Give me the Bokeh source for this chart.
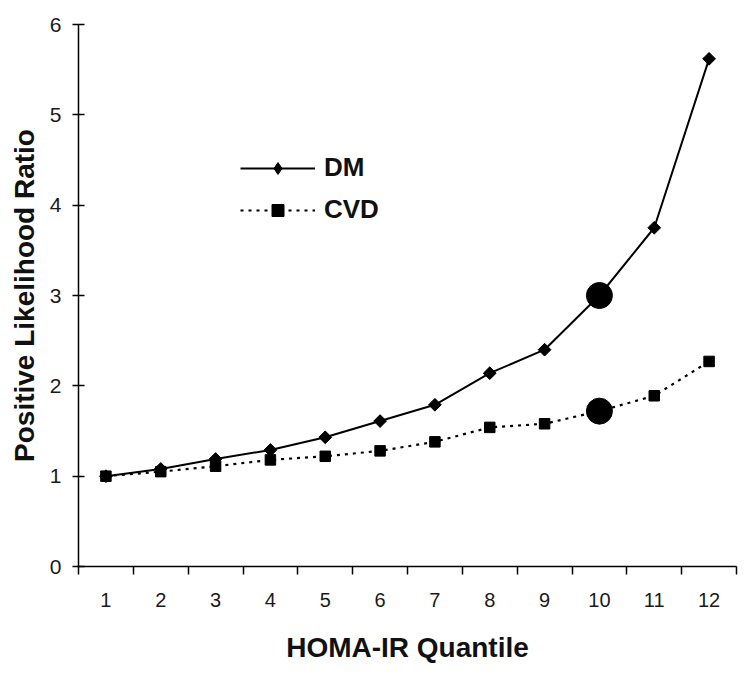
import math
from bokeh.plotting import figure
from bokeh.models import (ColumnDataSource, FixedTicker, Range1d, Legend, LegendItem)
from bokeh.embed import file_html
from bokeh.resources import INLINE

# ---- data ----
quantiles = [1, 2, 3, 4, 5, 6, 7, 8, 9, 10, 11, 12]
dm = [1.00, 1.08, 1.19, 1.29, 1.43, 1.61, 1.79, 2.14, 2.40, 3.00, 3.75, 5.62]
cvd = [1.00, 1.05, 1.11, 1.18, 1.22, 1.28, 1.38, 1.54, 1.58, 1.72, 1.89, 2.27]
highlight_q = [10, 10]
highlight_v = [3.00, 1.72]
y_ticks = [0, 1, 2, 3, 4, 5, 6]

FONT = "Liberation Sans"

p = figure(frame_width=658, frame_height=542, output_backend="svg",
           toolbar_location=None,
           x_range=Range1d(0.5, 12.5), y_range=Range1d(0, 6),
           min_border_left=78, min_border_right=3, min_border_top=24,
           min_border_bottom=90)
p.outline_line_color = None
p.grid.visible = False
p.background_fill_color = "white"

src_dm = ColumnDataSource(dict(x=quantiles, y=dm))
src_cvd = ColumnDataSource(dict(x=quantiles, y=cvd))
src_hi = ColumnDataSource(dict(x=highlight_q, y=highlight_v))

l_dm = p.line("x", "y", source=src_dm, line_color="black", line_width=2)
m_dm = p.scatter("x", "y", source=src_dm, marker="square", angle=math.pi / 4,
                 size=9, fill_color="black", line_color="black")
# diamond marker of the same points (hidden under the rotated squares), used for the legend swatch
m_dm_key = p.scatter("x", "y", source=src_dm, marker="diamond", size=11,
                     fill_color="black", line_color="black")
l_cvd = p.line("x", "y", source=src_cvd, line_color="black", line_width=2.2,
               line_dash="3 5")
m_cvd = p.scatter("x", "y", source=src_cvd, marker="square", size=10.5,
                  fill_color="black", line_color="black")
p.scatter("x", "y", source=src_hi, marker="circle", size=26,
          fill_color="black", line_color="black")

# ---- axes ----
xa = p.xaxis[0]
xa.ticker = FixedTicker(ticks=quantiles, minor_ticks=[q - 0.5 for q in quantiles] + [12.5])
xa.major_tick_out = 0
xa.major_tick_in = 0
xa.minor_tick_out = 8
xa.minor_tick_in = 0
xa.minor_tick_line_color = "black"
xa.minor_tick_line_width = 1.5
xa.axis_line_width = 1.5
xa.major_label_standoff = 18
xa.major_label_text_font = FONT
xa.major_label_text_font_size = "20px"
xa.major_label_text_color = "#1a1a1a"
xa.axis_label = "HOMA-IR Quantile"
xa.axis_label_text_font = FONT
xa.axis_label_text_font_style = "bold"
xa.axis_label_text_font_size = "28px"
xa.axis_label_standoff = 22
xa.axis_label_text_color = "#111111"

ya = p.yaxis[0]
ya.ticker = FixedTicker(ticks=y_ticks)
ya.major_tick_in = 6
ya.major_tick_out = 6
ya.major_tick_line_width = 1.5
ya.minor_tick_line_color = None
ya.axis_line_width = 1.5
ya.major_label_standoff = 11
ya.major_label_text_font = FONT
ya.major_label_text_font_size = "21px"
ya.major_label_text_color = "#1a1a1a"
ya.axis_label = "Positive Likelihood Ratio"
ya.axis_label_text_font = FONT
ya.axis_label_text_font_style = "bold"
ya.axis_label_text_font_size = "28px"
ya.axis_label_standoff = 7
ya.axis_label_text_color = "#111111"

# ---- legend ----
legend = Legend(items=[LegendItem(label="DM", renderers=[l_dm, m_dm_key]),
                       LegendItem(label="CVD", renderers=[l_cvd, m_cvd])],
                location=(162, 341), orientation="vertical")
legend.glyph_width = 75
legend.glyph_height = 30
legend.label_height = 30
legend.spacing = 11
legend.padding = 0
legend.margin = 0
legend.label_standoff = 9
legend.border_line_color = None
legend.background_fill_alpha = 0
legend.label_text_font = FONT
legend.label_text_font_style = "bold"
legend.label_text_font_size = "26px"
legend.label_text_color = "#111111"
p.add_layout(legend, "center")

open("out.html", "w").write(file_html(p, INLINE))
